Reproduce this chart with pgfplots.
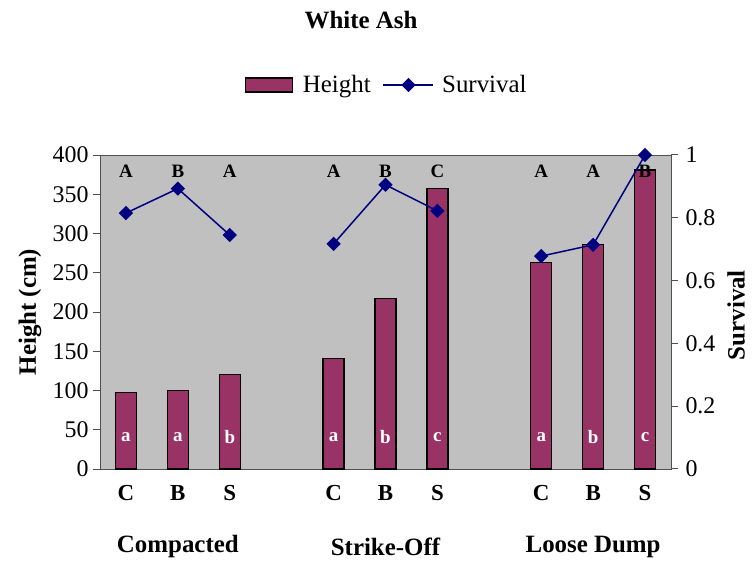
\documentclass[border=0pt]{standalone}
\usepackage{pgfplots}
\pgfplotsset{compat=1.18}
\usepackage{pgfplotstable}
\usepackage{fontspec}
\setmainfont{Liberation Serif}
\definecolor{barc}{HTML}{993366}
\definecolor{plotbg}{HTML}{C0C0C0}
\definecolor{navyc}{HTML}{000080}
\definecolor{axc}{HTML}{505050}
\pgfplotsset{
  barleg/.style={legend image code/.code={\draw[##1] (0bp,-7bp) rectangle (47bp,7bp);}},
  lineleg/.style={legend image code/.code={\draw[##1, mark repeat=2, mark phase=2] plot coordinates {(0bp,0bp) (25bp,0bp) (50bp,0bp)};}},
}
\pgfplotstableread{
x h
0 97
1 100
2 120
4 141
5 217
6 357
8 263
9 286
10 381
}\heighttab
\pgfplotstableread{
x s
0 0.815
1 0.893
2 0.745
3 nan
4 0.717
5 0.905
6 0.822
7 nan
8 0.678
9 0.714
10 1.0
}\survtab
\pgfplotstableread{
x y l
0 379 A
1 379 B
2 379 A
4 379 A
5 379 B
6 379 C
8 379 A
9 379 A
10 379 B
}\uppertab
\pgfplotstableread{
x y l
0 41 a
1 41 a
2 41 b
4 41 a
5 41 b
6 41 c
8 41 a
9 41 b
10 41 c
}\lowertab
\begin{document}
\begin{tikzpicture}
\useasboundingbox (0,0) rectangle (753bp,561bp);
\node[font=\bfseries\fontsize{25}{25}\selectfont] at (361bp,541bp) {White Ash};
\begin{axis}[
  at={(100bp,92bp)}, anchor=south west,
  scale only axis, width=571bp, height=314bp,
  xmin=-0.5, xmax=10.5, ymin=0, ymax=400,
  axis background/.style={fill=plotbg},
  axis line style={draw=axc, line width=1bp},
  ytick={0,50,...,400}, ytick pos=left, tick align=outside,
  major tick length=7bp,
  y tick style={draw=axc, line width=1bp},
  xtick={0,1,2,4,5,6,8,9,10},
  xticklabels={C,B,S,C,B,S,C,B,S},
  x tick style={draw=none},
  xticklabel style={font=\bfseries\fontsize{23}{23}\selectfont, yshift=-6bp},
  /pgf/number format/assume math mode=true,
  yticklabel style={font=\fontsize{24}{24}\selectfont, xshift=-1bp},
  ylabel={Height (cm)},
  ylabel style={font=\bfseries\fontsize{25}{25}\selectfont, at={(axis description cs:-0.1226,0.5)}, anchor=center},
  legend columns=2,
  legend style={draw=none, fill=none, at={(0.502,1.223)}, anchor=center,
    font=\fontsize{25}{25}\selectfont, /tikz/every even column/.append style={column sep=10bp}},
  clip=false,
]
\addplot[ybar, bar width=21bp, fill=barc, draw=black, line width=1.2bp, barleg]
  table[x=x, y=h] {\heighttab};
\addlegendentry{\hspace{8bp}Height}
\addlegendimage{navyc, line width=1.5bp, mark=square*, mark size=4.3bp, mark options={rotate=45, fill=navyc}, lineleg}
\addlegendentry{\hspace{6bp}Survival}
\addplot[draw=none, mark=none, forget plot, nodes near coords, point meta=explicit symbolic,
  nodes near coords style={anchor=center, font=\bfseries\fontsize{19}{19}\selectfont, black}]
  table[x=x, y=y, meta=l] {\uppertab};
\addplot[draw=none, mark=none, forget plot, nodes near coords, point meta=explicit symbolic,
  nodes near coords style={anchor=center, font=\bfseries\fontsize{19}{19}\selectfont, white}]
  table[x=x, y=y, meta=l] {\lowertab};
\node[font=\bfseries\fontsize{25}{25}\selectfont] at (axis cs:1,0) [yshift=-78bp] {Compacted};
\node[font=\bfseries\fontsize{25}{25}\selectfont] at (axis cs:5,0) [yshift=-78bp] {Strike-Off};
\node[font=\bfseries\fontsize{25}{25}\selectfont] at (axis cs:9,0) [yshift=-78bp] {Loose Dump};
\end{axis}
\begin{axis}[
  at={(100bp,92bp)}, anchor=south west,
  scale only axis, width=571bp, height=314bp,
  xmin=-0.5, xmax=10.5, ymin=0, ymax=1,
  axis x line=none, axis y line*=right,
  axis line style={draw=axc, line width=1bp},
  ytick={0,0.2,...,1}, tick align=outside, major tick length=7bp,
  y tick style={draw=axc, line width=1bp},
  /pgf/number format/assume math mode=true,
  yticklabel style={font=\fontsize{24}{24}\selectfont, xshift=4bp},
  ylabel={Survival},
  ylabel style={font=\bfseries\fontsize{25}{25}\selectfont, at={(axis description cs:1.114,0.49)}, anchor=center},
  unbounded coords=jump,
  clip=false,
]
\addplot[navyc, line width=1.5bp, mark=square*, mark size=4.3bp, mark options={rotate=45, fill=navyc}]
  table[x=x, y=s] {\survtab};
\end{axis}
\end{tikzpicture}
\end{document}
